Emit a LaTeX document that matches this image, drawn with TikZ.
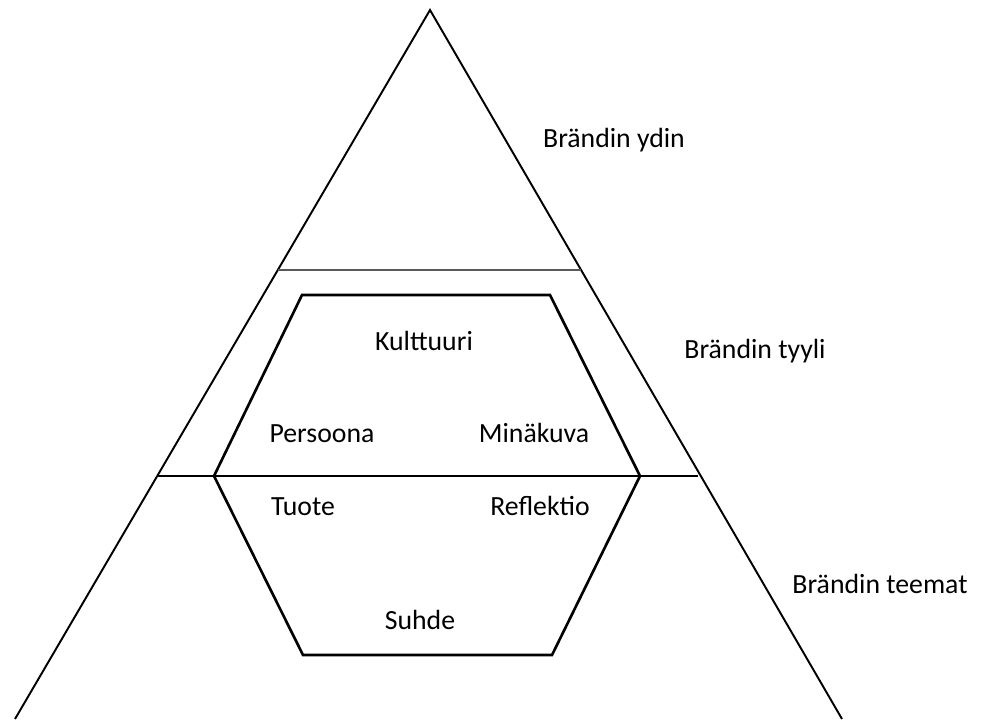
\documentclass[tikz,border=0pt]{standalone}
\usepackage{fontspec}
\setmainfont{Carlito}
\tikzset{lbl/.append style={font=\fontsize{15.8}{18}\selectfont, inner sep=0pt, anchor=base}}
\tikzset{side/.append style={line width=1.1pt}}
\tikzset{hex/.append style={line width=1.5pt, line join=miter}}

\begin{document}
\begin{tikzpicture}[x=0.02cm,y=-0.02cm]
                \useasboundingbox (0,0) rectangle (982,719);
                % triangle
                \coordinate (top) at (430,10);
                \coordinate (bl) at (15,719);
                \coordinate (br) at (842,719);
                \draw[side] (bl) -- (top) -- (br);
                \coordinate (u1) at (278,270);
                \coordinate (u2) at (581,270);
                \draw[side, gray!70!black, line width=0.9pt] (u1) -- (u2);
                \coordinate (m1) at (157,476);
                \coordinate (m2) at (698,476);
                \draw[side] (m1) -- (m2);
                % hexagon
                \coordinate (h1) at (302,295);
                \coordinate (h2) at (550,295);
                \coordinate (h3) at (640,476);
                \coordinate (h4) at (552,655);
                \coordinate (h5) at (303,655);
                \coordinate (h6) at (214,476);
                \draw[hex] (h1) -- (h2) -- (h3) -- (h4) -- (h5) -- (h6) -- cycle;
                % labels
                \node[lbl] (ydin) at (614,148) {Brändin ydin};
                \node[lbl] (tyyli) at (755,358) {Brändin tyyli};
                \node[lbl] (teemat) at (880,593) {Brändin teemat};
                \node[lbl] (kult) at (424,350) {Kulttuuri};
                \node[lbl] (pers) at (322,442) {Persoona};
                \node[lbl] (mina) at (534,442) {Minäkuva};
                \node[lbl] (tuote) at (303,515) {Tuote};
                \node[lbl] (refl) at (540,515) {Reflektio};
                \node[lbl] (suhde) at (420,629) {Suhde};
            \end{tikzpicture}
\end{document}
